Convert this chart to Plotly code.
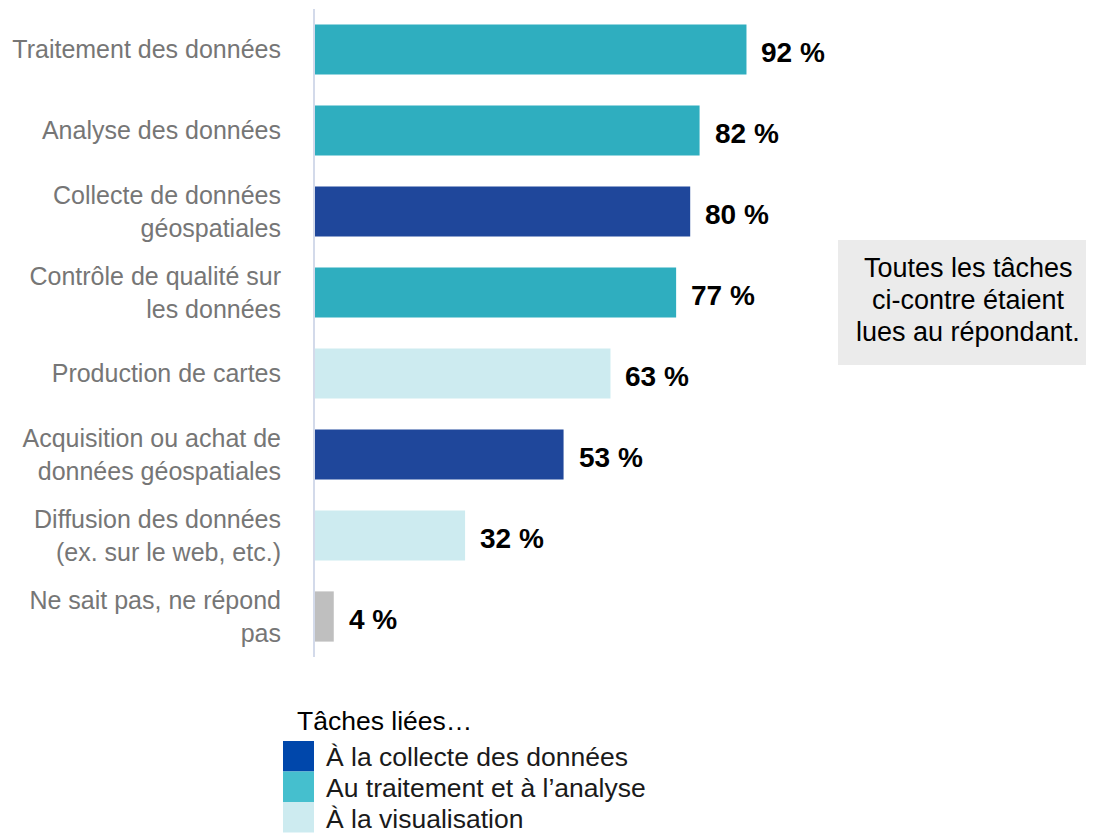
import plotly.graph_objects as go

categories = [
    "Traitement des données",
    "Analyse des données",
    "Collecte de données<br>géospatiales",
    "Contrôle de qualité sur<br>les données",
    "Production de cartes",
    "Acquisition ou achat de<br>données géospatiales",
    "Diffusion des données<br>(ex. sur le web, etc.)",
    "Ne sait pas, ne répond<br>pas",
]
values = [92, 82, 80, 77, 63, 53, 32, 4]
groups = ["traitement", "traitement", "collecte", "traitement", "visu", "collecte", "visu", "nsp"]

bar_colors = {
    "collecte": "#1F479B",
    "traitement": "#2FAEBF",
    "visu": "#CDEBF0",
    "nsp": "#BFBFBF",
}
legend_title = "Tâches liées…"
legend_labels = ["À la collecte des données", "Au traitement et à l’analyse", "À la visualisation"]
legend_colors = ["#0047AB", "#45BFCE", "#CDEBF0"]
note_lines = ["Toutes les tâches", "ci-contre étaient", "lues au répondant."]

# page offset (browser body margin)
OFF = 8
W, H = 1094 - OFF, 834 - OFF
PL, PR, PT, PB = 315, 784, 9, 657  # plot area in target pixel coords
L, T = PL - OFF, PT - OFF
R, B = W - (PR - OFF), H - (PB - OFF)
pw, ph = PR - PL, PB - PT

def px(x):
    return (x - PL) / pw

def py(y):
    return (PB - y) / ph

FONT = "Liberation Sans, Arial, sans-serif"

fig = go.Figure()
fig.add_trace(go.Bar(
    x=values, y=categories, orientation="h",
    marker=dict(color=[bar_colors[g] for g in groups], line=dict(width=0)),
    hoverinfo="skip", showlegend=False,
))

for c, v in zip(categories, values):
    fig.add_annotation(x=v, y=c, xref="x", yref="y", text=f"<b>{v} %</b>",
                       showarrow=False, xanchor="left", xshift=13, yshift=-3,
                       font=dict(family=FONT, size=28, color="#000000"))

# note box
fig.add_shape(type="rect", xref="paper", yref="paper",
              x0=px(838), x1=px(1094), y0=py(365), y1=py(240),
              fillcolor="#EBEBEB", line=dict(width=0), layer="below")
for i, line in enumerate(note_lines):
    fig.add_annotation(xref="paper", yref="paper", x=px(968), y=py(268 + 32 * i), text=line,
                       showarrow=False, xanchor="center", yanchor="middle",
                       font=dict(family=FONT, size=27, color="#000000"))

# legend
fig.add_annotation(xref="paper", yref="paper", x=px(295), y=py(721), text=legend_title,
                   showarrow=False, xanchor="left", yanchor="middle",
                   font=dict(family=FONT, size=26.5, color="#000000"))
sw_top = 741
sw_h = 30.5
for i, (lab, col) in enumerate(zip(legend_labels, legend_colors)):
    y0 = sw_top + i * sw_h
    fig.add_shape(type="rect", xref="paper", yref="paper",
                  x0=px(283), x1=px(314), y0=py(y0 + sw_h), y1=py(y0),
                  fillcolor=col, line=dict(width=0))
    fig.add_annotation(xref="paper", yref="paper", x=px(324), y=py(757 + 31 * i),
                       text=lab, showarrow=False, xanchor="left", yanchor="middle",
                       font=dict(family=FONT, size=26.5, color="#1A1A1A"))

fig.update_layout(
    width=W, height=H,
    margin=dict(l=L, r=R, t=T, b=B, autoexpand=False),
    paper_bgcolor="white", plot_bgcolor="white",
    bargap=0.38,
    xaxis=dict(range=[0, 100], visible=False, fixedrange=True),
    yaxis=dict(
        categoryorder="array", categoryarray=categories, autorange="reversed",
        showline=True, linecolor="#D3DAEA", linewidth=2, layer="below traces",
        showgrid=False, zeroline=False, ticks="",
        ticklabelstandoff=27,
        tickfont=dict(family=FONT, size=25, color="#767676"),
    ),
    font=dict(family=FONT),
)

fig.write_html("out.html")
